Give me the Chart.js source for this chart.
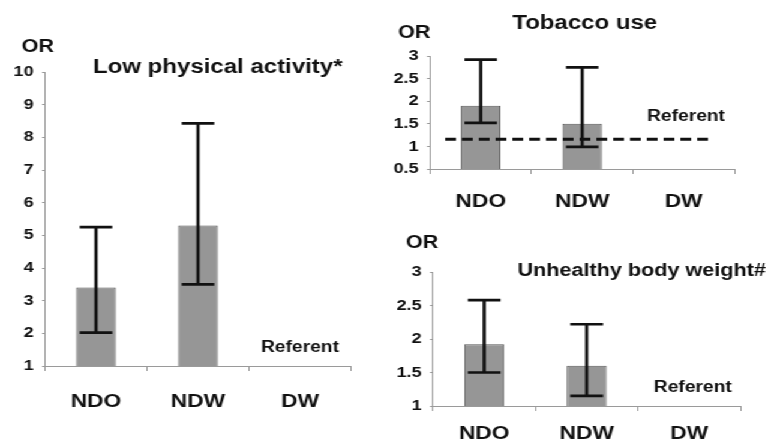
<!DOCTYPE html>
<html>
<head>
<meta charset="utf-8">
<script src="https://cdn.jsdelivr.net/npm/chart.js@4.4.1/dist/chart.umd.min.js"></script>
<style>
    html, body { margin: 0; padding: 0; background: #fff; overflow: hidden; }
    /* the original figure is stretched sideways, so the whole stage is too */
    #stage { position: absolute; left: 0; top: 0; width: 643px; height: 439px; transform: scaleX(1.2); transform-origin: 0 0; }
    .box { position: absolute; }
</style>
</head>
<body>
<div id="stage">
    <div class="box" style="left:0;top:0"><canvas id="activityChart" width="320" height="439"></canvas></div>
    <div class="box" style="left:320px;top:0"><canvas id="tobaccoChart" width="323" height="215"></canvas></div>
    <div class="box" style="left:320px;top:215px"><canvas id="weightChart" width="323" height="224"></canvas></div>
</div>
<script>
// Data
const categories = ['NDO', 'NDW', 'DW'];

const activityOR = [3.4, 5.3, null];
const activityLow = [2.02, 3.5, null];
const activityHigh = [5.25, 8.43, null];
const activityTicks = [1, 2, 3, 4, 5, 6, 7, 8, 9, 10];

const tobaccoOR = [1.9, 1.5, null];
const tobaccoLow = [1.52, 0.99, null];
const tobaccoHigh = [2.92, 2.75, null];
const tobaccoRef = 1.16;
const tobaccoTicks = [0.5, 1, 1.5, 2, 2.5, 3];

const weightOR = [1.92, 1.6, null];
const weightLow = [1.5, 1.15, null];
const weightHigh = [2.58, 2.22, null];
const weightTicks = [1, 1.5, 2, 2.5, 3];

const FONT = '"Liberation Sans", Arial, sans-serif';
const AXIS_COLOR = '#9a9a9a';

// Error bars (and the dashed referent line) drawn through the chart scales
const errorBars = {
    id: 'errorBars',
    afterDatasetsDraw(chart, args, opts) {
        const { ctx, scales: { x, y } } = chart;
        const meta = chart.getDatasetMeta(0);
        ctx.save();
        ctx.strokeStyle = '#111';
        ctx.lineWidth = 2.7;
        meta.data.forEach((bar, i) => {
            if (opts.low[i] == null) return;
            const yl = y.getPixelForValue(opts.low[i]);
            const yh = y.getPixelForValue(opts.high[i]);
            const half = bar.width * 0.41;
            ctx.beginPath();
            ctx.moveTo(bar.x, yl); ctx.lineTo(bar.x, yh);
            ctx.moveTo(bar.x - half, yl); ctx.lineTo(bar.x + half, yl);
            ctx.moveTo(bar.x - half, yh); ctx.lineTo(bar.x + half, yh);
            ctx.stroke();
        });
        if (opts.refLine != null) {
            const yr = y.getPixelForValue(opts.refLine);
            ctx.lineWidth = 3;
            ctx.setLineDash([9, 5]);
            ctx.beginPath();
            ctx.moveTo(x.getPixelForValue(-0.35), yr);
            ctx.lineTo(x.getPixelForValue(2.25), yr);
            ctx.stroke();
        }
        ctx.restore();
    }
};

// "OR", panel title and the "Referent" note
const panelText = {
    id: 'panelText',
    afterDraw(chart, args, opts) {
        const { ctx, chartArea, scales: { x, y } } = chart;
        ctx.save();
        ctx.fillStyle = '#111';
        ctx.textAlign = 'center';
        ctx.textBaseline = 'middle';
        ctx.font = 'bold 18px ' + FONT;
        ctx.fillText('OR', chartArea.left + opts.or[0], chartArea.top + opts.or[1]);
        ctx.font = 'bold ' + opts.titleSize + 'px ' + FONT;
        ctx.fillText(opts.title, chartArea.left + opts.titlePos[0], chartArea.top + opts.titlePos[1]);
        ctx.font = 'bold 16px ' + FONT;
        ctx.fillText('Referent', x.getPixelForValue(2) + opts.refDx, y.getPixelForValue(opts.refAt));
        ctx.restore();
    }
};

function makeChart(id, cfg) {
    const ctx = document.getElementById(id).getContext('2d');
    return new Chart(ctx, {
        type: 'bar',
        data: {
            labels: categories,
            datasets: [{
                data: cfg.values,
                backgroundColor: '#969696',
                borderColor: '#555',
                borderWidth: 1,
                barPercentage: 0.39,
                categoryPercentage: 1
            }]
        },
        options: {
            responsive: false,
            animation: false,
            layout: { padding: { left: 0, right: cfg.right, top: cfg.top, bottom: 0 } },
            scales: {
                x: {
                    grid: { drawOnChartArea: false, tickLength: 5, color: AXIS_COLOR, offset: true },
                    border: { color: AXIS_COLOR },
                    ticks: { color: '#111', padding: cfg.xPad, font: { family: FONT, size: 19, weight: 'bold' } },
                    afterFit: s => { s.height = cfg.xHeight; }
                },
                y: {
                    min: cfg.ticks[0],
                    max: cfg.ticks[cfg.ticks.length - 1],
                    afterBuildTicks: s => { s.ticks = cfg.ticks.map(v => ({ value: v })); },
                    grid: { drawOnChartArea: false, tickLength: 2.5, color: AXIS_COLOR },
                    border: { color: AXIS_COLOR },
                    ticks: {
                        color: '#111', padding: 7,
                        font: { family: FONT, size: 15, weight: 'bold' },
                        callback: v => String(v)
                    },
                    afterFit: s => { s.width = cfg.yWidth; }
                }
            },
            plugins: {
                legend: { display: false },
                tooltip: { enabled: false },
                errorBars: { low: cfg.low, high: cfg.high, refLine: cfg.refLine },
                panelText: cfg.text
            }
        },
        plugins: [errorBars, panelText]
    });
}

makeChart('activityChart', {
    values: activityOR, low: activityLow, high: activityHigh, ticks: activityTicks, refLine: null,
    top: 72, right: 27.5, yWidth: 37.5, xHeight: 73, xPad: 19,
    text: { or: [-6, -25], title: 'Low physical activity*', titleSize: 20, titlePos: [144, -5], refDx: 0, refAt: 1.55 }
});

makeChart('tobaccoChart', {
    values: tobaccoOR, low: tobaccoLow, high: tobaccoHigh, ticks: tobaccoTicks, refLine: tobaccoRef,
    top: 56, right: 31, yWidth: 38.3, xHeight: 46, xPad: 16,
    text: { or: [-13, -23], title: 'Tobacco use', titleSize: 20, titlePos: [129, -33], refDx: 2, refAt: 1.67 }
});

makeChart('weightChart', {
    values: weightOR, low: weightLow, high: weightHigh, ticks: weightTicks, refLine: null,
    top: 57, right: 26, yWidth: 40.8, xHeight: 33, xPad: 11,
    text: { or: [-9, -29], title: 'Unhealthy body weight#', titleSize: 18, titlePos: [174, -1], refDx: 3, refAt: 1.27 }
});
</script>
</body>
</html>
